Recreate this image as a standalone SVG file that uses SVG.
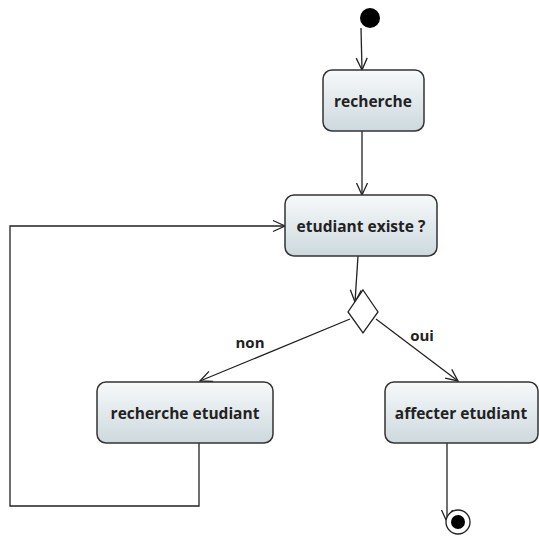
<svg xmlns="http://www.w3.org/2000/svg" width="539" height="538" viewBox="0 0 539 538">
  <defs>
    <linearGradient id="actFill" x1="0" y1="0" x2="0" y2="1">
      <stop offset="0" stop-color="#f7f9fa"/>
      <stop offset="1" stop-color="#cdd9de"/>
    </linearGradient>
    <marker id="open" viewBox="0 0 14 14" refX="13" refY="7" markerWidth="14" markerHeight="14" markerUnits="userSpaceOnUse" orient="auto">
      <path d="M1,1.5 L13,7 L1,12.5" fill="none" stroke="#222" stroke-width="1.3"/>
    </marker>
    <style>
      .act rect { fill: url(#actFill); stroke: #333; stroke-width: 1.5; }
      .act text { font-family: "Open Sans", "Liberation Sans", sans-serif; font-weight: 700; font-size: 15.5px; fill: #222; text-anchor: middle; }
      .edge { fill: none; stroke: #222; stroke-width: 1.3; }
      .arrow { marker-end: url(#open); }
      .lbl { font-family: "Open Sans", "Liberation Sans", sans-serif; font-weight: 700; font-size: 15px; fill: #222; text-anchor: middle; }
    </style>
  </defs>

  <g id="connectors">
    <path class="edge arrow" d="M361,28 L362,70"/>
    <path class="edge arrow" d="M362,131 L362,195"/>
    <path class="edge arrow" d="M358,256 L355,302"/>
    <path class="edge arrow" d="M350,319 L200,381"/>
    <path class="edge arrow" d="M376,319 L458,381"/>
    <path class="edge arrow" d="M447,443 L447,522"/>
    <path class="edge arrow" d="M199,443 L199,506 L10,506 L10,226 L285,226"/>
    <text class="lbl" x="250" y="348">non</text>
    <text class="lbl" x="422" y="341">oui</text>
  </g>

  <g id="start">
    <circle cx="370" cy="18" r="10" fill="#000"/>
  </g>

  <g id="recherche" class="act">
    <rect x="323" y="70" width="101" height="61" rx="9"/>
    <text x="373" y="107">recherche</text>
  </g>

  <g id="etudiant-existe" class="act">
    <rect x="285" y="195" width="152" height="61" rx="9"/>
    <text x="361" y="232">etudiant existe ?</text>
  </g>

  <g id="decision">
    <polygon points="363,290 378,312 363,333 348,312" fill="#fff" stroke="#222" stroke-width="1.3"/>
  </g>

  <g id="recherche-etudiant" class="act">
    <rect x="97" y="382" width="176" height="61" rx="9"/>
    <text x="185" y="419">recherche etudiant</text>
  </g>

  <g id="affecter-etudiant" class="act">
    <rect x="385" y="382" width="153" height="61" rx="9"/>
    <text x="461" y="419">affecter etudiant</text>
  </g>

  <g id="end">
    <circle cx="458" cy="522" r="12" fill="#fff" stroke="#222" stroke-width="1.3"/>
    <circle cx="458" cy="522" r="7" fill="#000"/>
  </g>
</svg>
